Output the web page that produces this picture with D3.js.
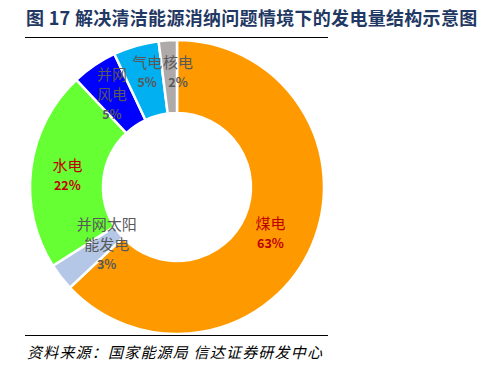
<!DOCTYPE html>
<html><head><meta charset="utf-8">
<script src="https://cdn.jsdelivr.net/npm/d3@7"></script>
<style>
html,body{margin:0;padding:0;background:#fff;}
svg{display:block;}
</style></head>
<body>
<script>
const categories = ["煤电", "并网太阳能发电", "水电", "并网风电", "气电", "核电"];
const labelLines = [["煤电"], ["并网太阳", "能发电"], ["水电"], ["并网", "风电"], ["气电"], ["核电"]];
const values = [63, 3, 22, 5, 5, 2];
const percentLabels = ["63%", "3%", "22%", "5%", "5%", "2%"];
const colors = ["#FF9900", "#B4C7E7", "#66FF33", "#0000FF", "#00B0F0", "#AEAAAA"];
const textColors = ["#C00000", "#595959", "#C00000", "#595959", "#595959", "#595959"];

const W = 483, H = 367;
const svg = d3.select("body").append("svg").attr("width", W).attr("height", H);

const cx = 177, cy = 187, rOuter = 147, rInner = 74;
const font = "'Noto Sans CJK SC', 'Noto Sans', sans-serif";

// title
svg.append("text").attr("x", 26).attr("y", 25)
  .attr("font-family", font).attr("font-weight", "bold").attr("font-size", 18)
  .attr("letter-spacing", 0.3)
  .attr("fill", "#1F3864").text("图 17 解决清洁能源消纳问题情境下的发电量结构示意图");
svg.append("line").attr("x1", 25).attr("x2", 328).attr("y1", 37.5).attr("y2", 37.5)
  .attr("stroke", "#000").attr("stroke-width", 1.2);

const g = svg.append("g").attr("transform", `translate(${cx},${cy})`);
const pie = d3.pie().sort(null).value(d => d)(values);
const arc = d3.arc().innerRadius(rInner).outerRadius(rOuter);
g.selectAll("path.slice").data(pie).enter().append("path")
  .attr("class", "slice").attr("d", arc)
  .attr("fill", (d, i) => colors[i])
  .attr("stroke", "#fff").attr("stroke-width", 2.5);

// label offsets relative to centroid (layout only)
const offsets = [[-8, 2], [17, -11], [0, 1], [-3, -2], [1, -9.5], [8, -5.5]];
const lineH = 20;
pie.forEach((d, i) => {
  const [x0, y0] = arc.centroid(d);
  const x = x0 + offsets[i][0], yc = y0 + offsets[i][1];
  const lines = labelLines[i];
  const n = lines.length + 1;
  const top = yc - (n - 1) * lineH / 2;
  const t = g.append("g");
  lines.forEach((s, k) => {
    t.append("text").attr("x", x).attr("y", top + k * lineH)
      .attr("text-anchor", "middle").attr("dominant-baseline", "central")
      .attr("font-family", font).attr("font-size", 15)
      .attr("fill", textColors[i]).text(s);
  });
  t.append("text").attr("x", x).attr("y", top + lines.length * lineH)
    .attr("text-anchor", "middle").attr("dominant-baseline", "central")
    .attr("font-family", font).attr("font-size", 12.5).attr("font-weight", "bold")
    .attr("fill", textColors[i]).text(percentLabels[i]);
});

// bottom line + source
svg.append("line").attr("x1", 25).attr("x2", 328).attr("y1", 335.5).attr("y2", 335.5)
  .attr("stroke", "#000").attr("stroke-width", 1.2);
svg.append("text").attr("x", 27).attr("y", 358)
  .attr("font-family", font).attr("font-style", "italic").attr("font-size", 15)
  .attr("letter-spacing", 1.2)
  .attr("fill", "#000").text("资料来源：国家能源局 信达证券研发中心");
</script>
</body></html>
